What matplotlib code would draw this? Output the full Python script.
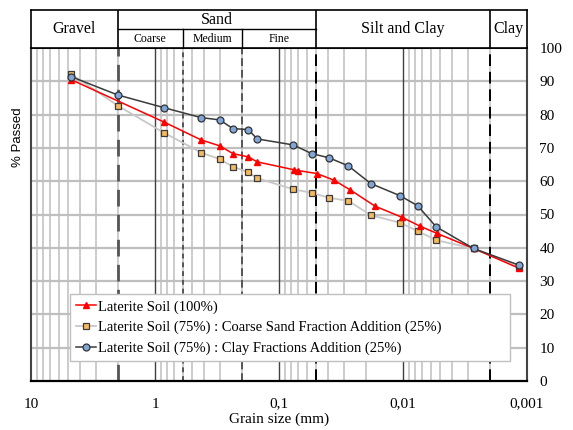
import matplotlib
matplotlib.use('Agg')
import matplotlib.pyplot as plt
from matplotlib.ticker import FixedLocator, NullFormatter
import numpy as np

# grain size (mm) / % passed
red_d = [4.75, 0.85, 0.425, 0.3, 0.236, 0.177, 0.15, 0.075, 0.07, 0.0496, 0.036,
         0.0267, 0.0168, 0.0101, 0.0073, 0.0053, 0.0027, 0.00115]
red_p = [90.5, 77.8, 72.4, 70.6, 68.3, 67.3, 65.8, 63.4, 63.2, 62.3, 60.3,
         57.4, 52.5, 49.1, 46.5, 44.3, 39.8, 33.8]

mix_d = [4.75, 2.0, 0.85, 0.425, 0.3, 0.236, 0.177, 0.15, 0.077, 0.0545, 0.0393,
         0.0276, 0.0182, 0.0105, 0.0076, 0.0054, 0.0027, 0.00116]
coarse_p = [92.2, 82.7, 74.6, 68.6, 66.6, 64.4, 62.7, 60.9, 57.6, 56.5, 55.0,
            54.1, 49.8, 47.5, 45.0, 42.3, 39.8, 34.2]
clay_p = [91.4, 85.9, 82.1, 79.1, 78.4, 75.8, 75.5, 72.7, 70.9, 68.3, 67.0,
          64.6, 59.3, 55.6, 52.6, 46.3, 39.8, 34.8]

labels = ['Laterite Soil (100%)',
          'Laterite Soil (75%) : Coarse Sand Fraction Addition (25%)',
          'Laterite Soil (75%) : Clay Fractions Addition (25%)']

x_ticks = [10, 1, 0.1, 0.01, 0.001]
x_ticklabels = ['10', '1', '0,1', '0,01', '0,001']
y_ticks = [0, 10, 20, 30, 40, 50, 60, 70, 80, 90, 100]

# soil class limits (mm)
limits = [2.0, 0.05, 0.002]
sand_sub = [0.6, 0.2]

serif = 'Liberation Serif'
W, H = 573, 430
fig = plt.figure(figsize=(W / 100, H / 100), dpi=100)

L, R = 31 / W, 527 / W
ax = fig.add_axes([L, 1 - 381 / H, R - L, (381 - 48) / H])
hd = fig.add_axes([L, 1 - 48 / H, R - L, (48 - 10) / H])

ax.set_xscale('log')
ax.set_xlim(10, 0.001)
ax.set_ylim(0, 100)

# grid
minor = [m * 10.0 ** e for e in range(-3, 1) for m in range(2, 10)]
for v in minor:
    ax.axvline(v, color='#cccccc', lw=1.4, zorder=0)
for v in y_ticks[1:]:
    ax.axhline(v, color='#bfbfbf', lw=1.6, zorder=0)
for v in x_ticks[1:-1]:
    ax.axvline(v, color='#404040', lw=1.0, zorder=1)

ax.axvline(2.0, color='#555555', lw=2.0, ls=(0, (6, 3)), zorder=1)
ax.axvline(0.6, color='#555555', lw=1.4, ls=(0, (2.5, 2)), zorder=1)
ax.axvline(0.2, color='#555555', lw=1.4, ls=(0, (4, 2)), zorder=1)
ax.axvline(0.05, color='black', lw=1.4, ls=(0, (6, 3)), zorder=1)
ax.axvline(0.002, color='black', lw=1.4, ls=(0, (6, 3)), zorder=1)

l1, = ax.plot(red_d, red_p, color='red', lw=1.1, marker='^', ms=4.5,
              mfc='red', mec='red', zorder=4, label=labels[0])
l2, = ax.plot(mix_d, coarse_p, color='#c8c8c8', lw=1.3, marker='s', ms=5,
              mfc='#f5b961', mec='#3a3a3a', mew=0.9, zorder=3, label=labels[1])
l3, = ax.plot(mix_d, clay_p, color='#3a3a3a', lw=1.1, marker='o', ms=5,
              mfc='#7fa6d6', mec='#333333', mew=0.9, zorder=5, label=labels[2])

ax.xaxis.set_major_locator(FixedLocator(x_ticks))
ax.xaxis.set_minor_locator(FixedLocator(minor))
ax.xaxis.set_minor_formatter(NullFormatter())
ax.set_xticklabels(x_ticklabels, fontfamily=serif, fontsize=11)
ax.set_yticks(y_ticks)
ax.set_yticklabels([str(v) for v in y_ticks], fontfamily=serif, fontsize=11)
ax.yaxis.tick_right()
ax.tick_params(axis='both', which='both', length=0)
ax.tick_params(axis='x', pad=12)
ax.tick_params(axis='y', pad=9)
ax.set_xlabel('Grain size (mm)', fontfamily=serif, fontsize=11, labelpad=1)
fig.text(18 / W, 1 - 137 / H, '% Passed', rotation=90, ha='center', va='center',
         fontsize=9.5, fontfamily='Liberation Sans')

for s in ['left', 'right']:
    ax.spines[s].set_color('#444444')
    ax.spines[s].set_linewidth(1.5)
ax.spines['bottom'].set_color('black')
ax.spines['bottom'].set_linewidth(1.6)
ax.spines['top'].set_linewidth(1.2)

leg = ax.legend(handles=[l1, l2, l3], loc='lower left',
                bbox_to_anchor=(0.079, 0.06, 0.887, 0.2), mode='expand',
                prop={'family': serif, 'size': 10.5}, frameon=True, fancybox=False,
                edgecolor='#c0c0c0', framealpha=1, handlelength=1.4,
                handletextpad=0.1, labelspacing=0.5, borderpad=0.4,
                borderaxespad=0)
leg.get_frame().set_linewidth(1.0)

# header table
hd.set_xscale('log')
hd.set_xlim(10, 0.001)
hd.set_ylim(0, 2)
hd.set_xticks([])
hd.set_yticks([])
hd.minorticks_off()
for s in hd.spines.values():
    s.set_linewidth(1.2)
for v in limits:
    hd.plot([v, v], [0, 2], color='black', lw=1.2)
for v in sand_sub:
    hd.plot([v, v], [0, 1], color='black', lw=1.0)
hd.plot([2.0, 0.05], [1, 1], color='black', lw=1.0)

gm = lambda a, b: np.sqrt(a * b)
hd.text(gm(10, 2.0), 1.0, 'Gravel', ha='center', va='center', fontfamily=serif, fontsize=11.5)
hd.text(gm(2.0, 0.05), 1.45, 'Sand', ha='center', va='center', fontfamily=serif, fontsize=11.5)
hd.text(gm(2.0, 0.6), 0.45, 'Coarse', ha='center', va='center', fontfamily=serif, fontsize=8.5)
hd.text(gm(0.6, 0.2), 0.45, 'Medium', ha='center', va='center', fontfamily=serif, fontsize=8.5)
hd.text(gm(0.2, 0.05), 0.45, 'Fine', ha='center', va='center', fontfamily=serif, fontsize=8.5)
hd.text(gm(0.05, 0.002), 1.0, 'Silt and Clay', ha='center', va='center', fontfamily=serif, fontsize=11.5)
hd.text(gm(0.002, 0.001), 1.0, 'Clay', ha='center', va='center', fontfamily=serif, fontsize=11.5)

fig.savefig('out.png', dpi=100)
